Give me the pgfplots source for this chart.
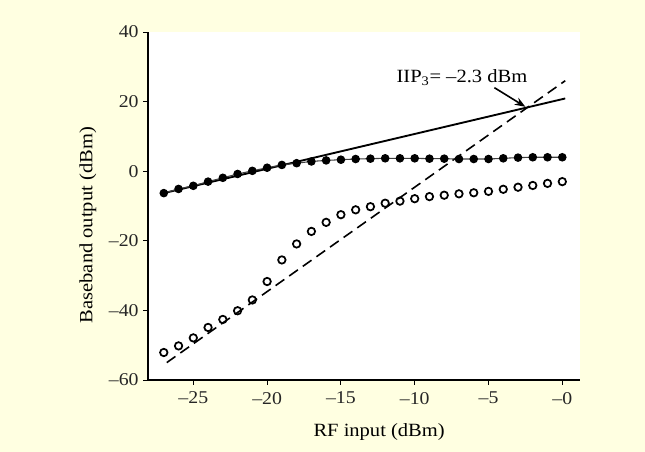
\documentclass[border=0pt]{standalone}
\usepackage{fontspec}
\setmainfont{Liberation Serif}[FakeStretch=1.1]
\usepackage{pgfplots}
\pgfplotsset{compat=1.18}
\usetikzlibrary{arrows.meta}
\definecolor{cream}{RGB}{255,255,225}

% fundamental output (filled dots)
\pgfplotstableread{
x y
-27 -6.3
-26 -5.1
-25 -4.2
-24 -3.0
-23 -1.9
-22 -0.8
-21 0.1
-20 1.0
-19 1.8
-18 2.3
-17 2.8
-16 3.1
-15 3.3
-14 3.5
-13 3.6
-12 3.7
-11 3.7
-10 3.7
-9 3.6
-8 3.6
-7 3.5
-6 3.5
-5 3.5
-4 3.7
-3 3.9
-2 4.0
-1 4.0
0 4.0
}\fund

% third-order product (open circles)
\pgfplotstableread{
x y
-27 -52.1
-26 -50.2
-25 -47.9
-24 -44.9
-23 -42.6
-22 -40.1
-21 -37.0
-20 -31.7
-19 -25.5
-18 -20.9
-17 -17.3
-16 -14.7
-15 -12.5
-14 -11.1
-13 -10.2
-12 -9.2
-11 -8.6
-10 -7.9
-9 -7.3
-8 -6.9
-7 -6.5
-6 -6.2
-5 -5.8
-4 -5.2
-3 -4.6
-2 -4.1
-1 -3.5
0 -3.0
}\third

\begin{document}
\begin{tikzpicture}
\fill[cream] (0,0) rectangle (483.75pt,339pt);
\begin{axis}[
    at={(111pt,54pt)}, anchor=south west,
    scale only axis,
    width=324pt, height=261pt,
    xmin=-28.07, xmax=1.2,
    ymin=-60, ymax=40,
    axis x line=bottom, axis y line=left,
    axis line style={-, line width=1.5pt},
    axis background/.style={fill=white},
    tick align=outside,
    major tick length=3.5pt,
    tick style={black, line width=0.7pt},
    xtick={-25,-20,-15,-10,-5,0},
    xticklabels={–25,–20,–15,–10,–5,–0},
    ytick={-60,-40,-20,0,20,40},
    yticklabels={–60,–40,–20,0,20,40},
    tick label style={font=\fontsize{13.5}{15}\selectfont, text=black!85},
    xticklabel style={yshift=-2pt},
    xlabel={RF input (dBm)},
    ylabel={Baseband output (dBm)},
    label style={font=\fontsize{14}{16}\selectfont},
    xlabel style={at={(axis description cs:0.535,0)}, anchor=center, yshift=-39pt},
    ylabel style={at={(axis description cs:0,0.445)}, anchor=center, yshift=45pt},
    clip=false,
]
% linear extrapolation of fundamental
\addplot[black, line width=1.4pt] coordinates {(-27,-6.3) (0.2,20.9)};
% third-order extrapolation
\addplot[black, line width=1.2pt, dash pattern=on 8pt off 4.5pt] coordinates {(-26.8,-55.0) (0.2,26.0)};
\addplot[black!75, line width=0.8pt, mark=*, mark size=2.8pt, mark options={black, fill=black}] table {\fund};
\addplot[only marks, mark=o, mark size=2.8pt, mark options={black, fill=white, line width=1.3pt}] table {\third};

\node[font=\fontsize{14}{16}\selectfont] at (axis cs:-6.8,26.9) {IIP\textsubscript{3}= –2.3 dBm};
\draw[-{Stealth[length=8pt,width=6pt]}, line width=1.2pt] (axis cs:-4.6,24.0) -- (axis cs:-2.5,18.5);
\end{axis}
\end{tikzpicture}
\end{document}
